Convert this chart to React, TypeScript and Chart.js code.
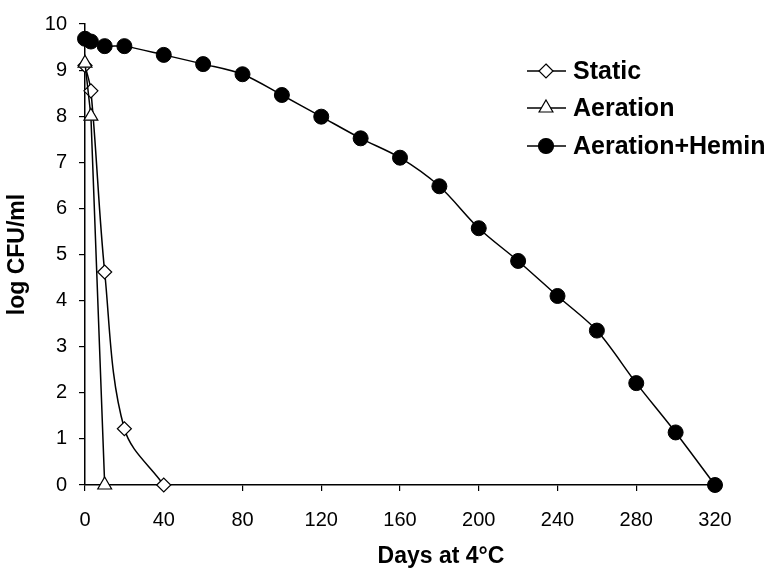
import React, { useEffect, useRef } from 'react';
import { Chart, registerables } from 'chart.js';

Chart.register(...registerables);

const staticDays = [0, 3, 10, 20, 40];
const staticLog = [9.1, 8.55, 4.62, 1.22, 0];

const aerationDays = [0, 3, 10];
const aerationLog = [9.15, 8.0, 0];

const heminDays = [0, 3, 10, 20, 40, 60, 80, 100, 120, 140, 160, 180, 200, 220, 240, 260, 280, 300, 320];
const heminLog = [9.68, 9.62, 9.52, 9.52, 9.33, 9.13, 8.91, 8.46, 7.99, 7.52, 7.1, 6.48, 5.57, 4.86, 4.1, 3.35, 2.21, 1.14, 0];

const seriesNames = ['Static', 'Aeration', 'Aeration+Hemin'];
const xTitle = 'Days at 4°C';
const yTitle = 'log CFU/ml';
const xMin = 0;
const xMax = 320;
const xStep = 40;
const yMin = 0;
const yMax = 10;
const yStep = 1;

const FONT = "'Liberation Sans', Arial, Helvetica, sans-serif";

function toPoints(xs: number[], ys: number[]) {
  return xs.map((x, i) => ({ x, y: ys[i] }));
}

function drawMarker(ctx: CanvasRenderingContext2D, style: string, x: number, y: number, r: number, fill: string) {
  ctx.save();
  ctx.beginPath();
  if (style === 'rectRot') {
    ctx.moveTo(x, y - r);
    ctx.lineTo(x + r, y);
    ctx.lineTo(x, y + r);
    ctx.lineTo(x - r, y);
    ctx.closePath();
  } else if (style === 'triangle') {
    const h = r * 1.5;
    const w = r * Math.sqrt(3) / 2;
    ctx.moveTo(x, y - r);
    ctx.lineTo(x + w, y - r + h);
    ctx.lineTo(x - w, y - r + h);
    ctx.closePath();
  } else {
    ctx.arc(x, y, r, 0, Math.PI * 2);
  }
  ctx.fillStyle = fill;
  ctx.fill();
  ctx.lineWidth = 1.2;
  ctx.strokeStyle = '#000';
  ctx.stroke();
  ctx.restore();
}

const legendPlugin = {
  id: 'customLegend',
  afterDraw(chart: any) {
    const ctx: CanvasRenderingContext2D = chart.ctx;
    const rows = [71, 108, 146];
    chart.data.datasets.forEach((ds: any, i: number) => {
      const y = rows[i];
      ctx.save();
      ctx.strokeStyle = '#000';
      ctx.lineWidth = 1.5;
      ctx.beginPath();
      ctx.moveTo(527, y);
      ctx.lineTo(566, y);
      ctx.stroke();
      drawMarker(ctx, ds.pointStyle, 546, y, ds.pointRadius, ds.pointBackgroundColor);
      ctx.fillStyle = '#000';
      ctx.font = `bold 25px ${FONT}`;
      ctx.textAlign = 'left';
      ctx.textBaseline = 'middle';
      ctx.fillText(ds.label, 573, y + 1);
      ctx.restore();
    });
  },
};

const xTitlePlugin = {
  id: 'xTitle',
  afterDraw(chart: any) {
    const ctx: CanvasRenderingContext2D = chart.ctx;
    ctx.save();
    ctx.fillStyle = '#000';
    ctx.font = `bold 23px ${FONT}`;
    ctx.textAlign = 'center';
    ctx.textBaseline = 'middle';
    ctx.fillText(xTitle, 441, 557);
    ctx.restore();
  },
};

export default function App() {
  const ref = useRef<HTMLCanvasElement>(null);

  useEffect(() => {
    if (!ref.current) return;
    const chart = new Chart(ref.current, {
      type: 'line',
      data: {
        datasets: [
          {
            label: seriesNames[0],
            data: toPoints(staticDays, staticLog),
            borderColor: '#000',
            borderWidth: 1.5,
            tension: 0.35,
            pointStyle: 'rectRot',
            pointRadius: 7,
            pointBackgroundColor: '#fff',
            pointBorderColor: '#000',
            pointBorderWidth: 1.2,
            clip: false,
            order: 2,
          },
          {
            label: seriesNames[1],
            data: toPoints(aerationDays, aerationLog),
            borderColor: '#000',
            borderWidth: 1.5,
            tension: 0,
            pointStyle: 'triangle',
            pointRadius: 8,
            pointBackgroundColor: '#fff',
            pointBorderColor: '#000',
            pointBorderWidth: 1.2,
            clip: false,
            order: 1,
          },
          {
            label: seriesNames[2],
            data: toPoints(heminDays, heminLog),
            borderColor: '#000',
            borderWidth: 1.5,
            tension: 0.3,
            pointStyle: 'circle',
            pointRadius: 7.5,
            pointBackgroundColor: '#000',
            pointBorderColor: '#000',
            pointBorderWidth: 1,
            clip: false,
            order: 0,
          },
        ],
      },
      options: {
        responsive: false,
        animation: false,
        events: [],
        layout: { padding: { top: 21, right: 68, left: 0, bottom: 0 } },
        plugins: {
          legend: { display: false },
          tooltip: { enabled: false },
        },
        scales: {
          x: {
            type: 'linear',
            min: xMin,
            max: xMax,
            ticks: {
              stepSize: xStep,
              color: '#000',
              font: { family: FONT, size: 20 },
              padding: 17,
              maxRotation: 0,
            },
            grid: {
              drawOnChartArea: false,
              drawTicks: true,
              tickLength: 6,
              color: '#000',
              lineWidth: 1.2,
            },
            border: { color: '#000', width: 1.5 },
            afterFit: (scale: any) => {
              scale.height = 84;
            },
          },
          y: {
            type: 'linear',
            min: yMin,
            max: yMax,
            ticks: {
              stepSize: yStep,
              color: '#000',
              font: { family: FONT, size: 20 },
              padding: 12,
            },
            grid: {
              drawOnChartArea: false,
              drawTicks: true,
              tickLength: 6,
              color: '#000',
              lineWidth: 1.2,
            },
            border: { color: '#000', width: 1.5 },
            title: {
              display: true,
              text: yTitle,
              color: '#000',
              font: { family: FONT, size: 23, weight: 'bold' },
              padding: { top: 4, bottom: 4 },
            },
            afterFit: (scale: any) => {
              scale.width = 85;
            },
          },
        },
      },
      plugins: [legendPlugin, xTitlePlugin],
    } as any);
    return () => chart.destroy();
  }, []);

  return (
    <div style={{ position: 'fixed', left: 0, top: 0, width: 783, height: 569, background: '#fff' }}>
      <canvas ref={ref} width={783} height={569} style={{ width: 783, height: 569, display: 'block' }} />
    </div>
  );
}
